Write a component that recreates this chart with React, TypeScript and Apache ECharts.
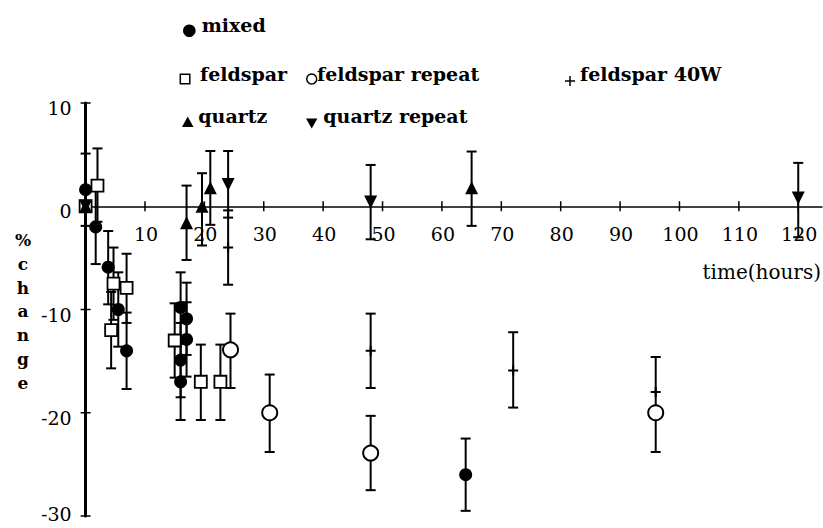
import React, { useEffect, useRef } from "react";
import * as echarts from "echarts";

// axis ticks / labels
const xTicks = [10, 20, 30, 40, 50, 60, 70, 80, 90, 100, 110, 120];
const yTicks = [-30, -20, -10, 0, 10];

// each group: time (h), % change, upper end of error bar, lower end of error bar
const mixedT = [0, 1.7, 3.8, 5.5, 6.9, 16, 17, 17, 16, 16, 64];
const mixedV = [1.6, -2.0, -5.9, -10.0, -14.0, -9.8, -10.9, -12.9, -14.9, -17.0, -26.0];
const mixedHi = [5.1, 1.6, -2.4, -6.4, -10.3, -6.4, -7.4, -9.3, -11.3, -13.3, -22.5];
const mixedLo = [-1.9, -5.6, -9.5, -13.6, -17.7, -13.3, -14.4, -16.5, -18.5, -20.7, -29.5];

const feldT = [0, 2, 4.7, 6.9, 4.3, 15, 19.4, 22.7];
const feldV = [0, 2.0, -7.5, -7.9, -12.0, -13.0, -17.0, -17.0];
const feldHi = [0, 5.6, -4.0, -4.6, -8.3, -9.4, -13.4, -13.4];
const feldLo = [0, -1.5, -11.0, -11.3, -15.7, -16.6, -20.7, -20.7];

const feldRepT = [24.4, 31, 48, 96];
const feldRepV = [-13.9, -20.0, -23.9, -20.0];
const feldRepHi = [-10.4, -16.3, -20.3, -20.0];
const feldRepLo = [-17.6, -23.8, -27.5, -23.8];

const feld40T = [24, 48, 72, 96];
const feld40V = [-4.0, -14.0, -15.9, -18.0];
const feld40Hi = [-0.4, -10.4, -12.2, -14.6];
const feld40Lo = [-7.6, -17.6, -19.5, -20.0];

const quartzT = [0, 17, 19.6, 21, 65];
const quartzV = [0, -1.6, 0, 1.8, 1.8];
const quartzHi = [0, 2.0, 3.2, 5.35, 5.3];
const quartzLo = [0, -5.2, -3.8, -1.8, -1.9];

const quartzRepT = [0, 24, 48, 120];
const quartzRepV = [0, 2.1, 0.4, 0.8];
const quartzRepHi = [0, 5.35, 4.0, 4.2];
const quartzRepLo = [0, -1.1, -3.2, -3.0];

const seriesNames = ["mixed", "feldspar", "feldspar repeat", "feldspar 40W", "quartz", "quartz repeat"];
const yAxisTitle = "%change";
const xAxisTitle = "time(hours)";

const FONT = "DejaVu Serif";
const PLUS = "path://M0,4L10,4L10,6L0,6Z M4,0L6,0L6,10L4,10Z";

function rows(t: number[], v: number[], hi: number[], lo: number[]) {
  return t.map((x, i) => [x, v[i], hi[i], lo[i]]);
}

function errorBars(data: number[][]) {
  return {
    type: "custom",
    data,
    z: 2,
    clip: false,
    encode: { x: 0, y: 1 },
    renderItem: (_p: any, api: any) => {
      const x = api.value(0);
      const v = api.value(1);
      const hi = api.value(2);
      const lo = api.value(3);
      if (hi === lo) return null;
      const a = api.coord([x, hi]);
      const b = api.coord([x, lo]);
      const st = { stroke: "#000", lineWidth: 2 };
      const children: any[] = [
        { type: "line", shape: { x1: a[0], y1: a[1], x2: b[0], y2: b[1] }, style: st },
      ];
      if (hi !== v)
        children.push({ type: "line", shape: { x1: a[0] - 5, y1: a[1], x2: a[0] + 5, y2: a[1] }, style: st });
      if (lo !== v)
        children.push({ type: "line", shape: { x1: b[0] - 5, y1: b[1], x2: b[0] + 5, y2: b[1] }, style: st });
      return { type: "group", children };
    },
  };
}

function scatter(name: string, t: number[], v: number[], extra: any) {
  return {
    type: "scatter",
    name,
    z: 5,
    data: t.map((x, i) => [x, v[i]]),
    ...extra,
  };
}

export default function App() {
  const ref = useRef<HTMLDivElement>(null);
  useEffect(() => {
    if (!ref.current) return;
    const chart = echarts.init(ref.current, null, { renderer: "svg" });

    const legendText = (text: string, x: number, y: number) => ({
      type: "text",
      x,
      y,
      style: { text, fill: "#000", font: `bold 19px "${FONT}"`, verticalAlign: "middle", align: "left" },
    });

    const titleLetters = yAxisTitle.split("").map((ch, i) => ({
      type: "text",
      x: 23,
      y: 240 + i * 23.8,
      style: { text: ch, fill: "#000", font: `bold 17px "${FONT}"`, align: "center", verticalAlign: "middle" },
    }));

    const option: any = {
      animation: false,
      backgroundColor: "#fff",
      grid: { left: 85.6, right: 1, top: 103, bottom: 12, containLabel: false, outerBoundsMode: "none" },
      xAxis: {
        type: "value",
        min: 0,
        max: 124,
        interval: 10,
        axisLine: { onZero: true, lineStyle: { color: "#000", width: 1.5 } },
        axisTick: { show: false },
        splitLine: { show: false },
        axisLabel: { show: false },
      },
      yAxis: {
        type: "value",
        min: -30,
        max: 10,
        interval: 10,
        axisLine: { show: true, onZero: false, lineStyle: { color: "#000", width: 3 } },
        axisTick: { show: false },
        splitLine: { show: false },
        axisLabel: { show: false },
      },
      series: [
        // tick marks crossing the x axis, with their labels
        {
          type: "custom",
          clip: false,
          z: 3,
          data: xTicks.map((t) => [t, 0]),
          renderItem: (_p: any, api: any) => {
            const p = api.coord([api.value(0), 0]);
            return {
              type: "group",
              children: [
                { type: "line", shape: { x1: p[0], y1: p[1] - 5, x2: p[0], y2: p[1] + 5 }, style: { stroke: "#000", lineWidth: 1.5 } },
                {
                  type: "text",
                  x: p[0] + 1,
                  y: p[1] + 28,
                  style: { text: String(api.value(0)), fill: "#000", font: `19px "${FONT}"`, align: "center", verticalAlign: "middle" },
                },
              ],
            };
          },
        },
        // tick marks crossing the y axis, with their labels
        {
          type: "custom",
          clip: false,
          z: 3,
          data: yTicks.map((v) => [0, v]),
          renderItem: (_p: any, api: any) => {
            const p = api.coord([0, api.value(1)]);
            return {
              type: "group",
              children: [
                { type: "line", shape: { x1: p[0] - 5, y1: p[1], x2: p[0] + 5, y2: p[1] }, style: { stroke: "#000", lineWidth: 1.5 } },
                {
                  type: "text",
                  x: p[0] - 14,
                  y: Math.min(p[1] + 5, 514),
                  style: { text: String(api.value(1)), fill: "#000", font: `19px "${FONT}"`, align: "right", verticalAlign: "middle" },
                },
              ],
            };
          },
        },
        errorBars(rows(mixedT, mixedV, mixedHi, mixedLo)),
        errorBars(rows(feldT, feldV, feldHi, feldLo)),
        errorBars(rows(feldRepT, feldRepV, feldRepHi, feldRepLo)),
        errorBars(rows(feld40T, feld40V, feld40Hi, feld40Lo)),
        errorBars(rows(quartzT, quartzV, quartzHi, quartzLo)),
        errorBars(rows(quartzRepT, quartzRepV, quartzRepHi, quartzRepLo)),
        scatter(seriesNames[0], mixedT, mixedV, { symbol: "circle", symbolSize: 13, itemStyle: { color: "#000", opacity: 1 } }),
        scatter(seriesNames[1], feldT, feldV, {
          symbol: "rect",
          symbolSize: 12,
          itemStyle: { color: "#fff", borderColor: "#000", borderWidth: 1.8, opacity: 1 },
        }),
        scatter(seriesNames[2], feldRepT, feldRepV, {
          symbol: "circle",
          symbolSize: 15,
          itemStyle: { color: "#fff", borderColor: "#000", borderWidth: 2, opacity: 1 },
        }),
        scatter(seriesNames[3], feld40T, feld40V, { symbol: PLUS, symbolSize: 10, itemStyle: { color: "#000", opacity: 1 } }),
        scatter(seriesNames[4], quartzT, quartzV, { symbol: "triangle", symbolSize: 13, itemStyle: { color: "#000", opacity: 1 } }),
        scatter(seriesNames[5], quartzRepT, quartzRepV, {
          symbol: "triangle",
          symbolRotate: 180,
          symbolSize: 13,
          itemStyle: { color: "#000", opacity: 1 },
        }),
      ],
      graphic: [
        // legend
        { type: "circle", shape: { cx: 189.3, cy: 30.7, r: 6.3 }, style: { fill: "#000" } },
        legendText(seriesNames[0], 201.7, 24.6),
        { type: "rect", shape: { x: 180.3, y: 74.3, width: 9.5, height: 9.5 }, style: { fill: "#fff", stroke: "#000", lineWidth: 1.5 } },
        legendText(seriesNames[1], 200, 74),
        { type: "circle", shape: { cx: 311.7, cy: 79, r: 5 }, style: { fill: "#fff", stroke: "#000", lineWidth: 1.5 } },
        legendText(seriesNames[2], 317, 74),
        { type: "line", shape: { x1: 565, y1: 81, x2: 575, y2: 81 }, style: { stroke: "#000", lineWidth: 1.5 } },
        { type: "line", shape: { x1: 570, y1: 76, x2: 570, y2: 86 }, style: { stroke: "#000", lineWidth: 1.5 } },
        legendText(seriesNames[3], 580, 74),
        { type: "polygon", shape: { points: [[182, 127], [193.5, 127], [187.7, 116.5]] }, style: { fill: "#000" } },
        legendText(seriesNames[4], 198.3, 116),
        { type: "polygon", shape: { points: [[306, 118.5], [317.4, 118.5], [311.7, 128.5]] }, style: { fill: "#000" } },
        legendText(seriesNames[5], 323.3, 116),
        // axis titles
        ...titleLetters,
        {
          type: "text",
          x: 821,
          y: 272,
          style: { text: xAxisTitle, fill: "#000", font: `20px "${FONT}"`, align: "right", verticalAlign: "middle" },
        },
      ],
    };
    chart.setOption(option);
    return () => chart.dispose();
  }, []);
  return <div ref={ref} style={{ position: "absolute", left: 0, top: 0, width: 823, height: 528, background: "#fff" }} />;
}
